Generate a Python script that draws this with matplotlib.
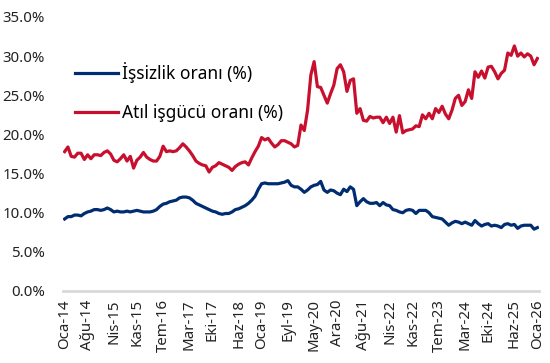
import matplotlib
matplotlib.use('Agg')
import matplotlib.pyplot as plt
from matplotlib.ticker import FuncFormatter

plt.rcParams['font.family'] = ['Noto Sans', 'DejaVu Sans']

# aylar (Ocak 2014 - Ocak 2026)
ay_adlari = ['Oca', 'Şub', 'Mar', 'Nis', 'May', 'Haz', 'Tem', 'Ağu', 'Eyl', 'Eki', 'Kas', 'Ara']
yil_bas, yil_son = 2014, 2026

tick_labels = ['Oca-14', 'Ağu-14', 'Nis-15', 'Kas-15', 'Tem-16', 'Mar-17', 'Eki-17',
               'Haz-18', 'Oca-19', 'Eyl-19', 'May-20', 'Ara-20', 'Ağu-21', 'Nis-22',
               'Kas-22', 'Tem-23', 'Mar-24', 'Eki-24', 'Haz-25', 'Oca-26']

issizlik = [9.2, 9.5, 9.5, 9.7, 9.7, 9.6, 9.9, 10.1, 10.2, 10.4, 10.4, 10.3,
            10.4, 10.6, 10.4, 10.1, 10.2, 10.1, 10.1, 10.2, 10.1, 10.2, 10.3, 10.2,
            10.1, 10.1, 10.1, 10.2, 10.4, 10.8, 11.1, 11.2, 11.4, 11.5, 11.6, 11.9,
            12.0, 12.0, 11.9, 11.6, 11.2, 11.0, 10.8, 10.6, 10.4, 10.2, 10.1, 9.9,
            9.8, 9.9, 9.9, 10.1, 10.4, 10.5, 10.7, 10.9, 11.2, 11.6, 12.1, 13.0,
            13.7, 13.8, 13.7, 13.7, 13.7, 13.7, 13.8, 13.9, 14.1, 13.5, 13.3, 13.3,
            13.0, 12.6, 12.9, 13.3, 13.5, 13.6, 14.0, 12.9, 12.6, 12.9, 12.8, 12.5,
            12.3, 13.0, 12.7, 13.3, 13.0, 10.9, 11.4, 11.8, 11.4, 11.2, 11.2, 11.3,
            10.9, 11.3, 11.0, 10.9, 10.4, 10.3, 10.1, 10.0, 10.3, 10.4, 10.3, 9.9,
            10.3, 10.3, 10.3, 10.0, 9.5, 9.4, 9.3, 9.2, 8.8, 8.4, 8.7, 8.9,
            8.8, 8.6, 8.8, 8.6, 8.4, 9.0, 8.6, 8.3, 8.5, 8.6, 8.3, 8.4,
            8.3, 8.1, 8.5, 8.6, 8.4, 8.5, 8.0, 8.3, 8.4, 8.4, 8.4, 7.9,
            8.1]

atil_isgucu = [17.8, 18.4, 17.2, 17.1, 17.6, 17.6, 16.8, 17.4, 16.9, 17.4, 17.4, 17.3,
               17.7, 17.9, 17.5, 16.7, 16.5, 16.9, 17.4, 16.6, 17.2, 15.7, 16.7, 17.1,
               17.7, 17.1, 16.8, 16.6, 16.6, 17.2, 18.5, 17.8, 17.9, 17.8, 17.9, 18.3,
               18.8, 18.4, 17.9, 17.3, 16.6, 16.3, 16.1, 16.0, 15.2, 15.8, 16.0, 16.4,
               16.2, 16.0, 15.8, 15.4, 15.9, 16.2, 16.4, 16.5, 16.1, 17.0, 17.8, 18.5,
               19.6, 19.3, 19.5, 18.9, 18.4, 18.7, 19.2, 19.2, 19.0, 18.8, 18.4, 18.6,
               21.2, 20.5, 23.1, 27.6, 29.3, 26.1, 26.0, 25.0, 24.0, 25.2, 26.3, 28.4,
               28.9, 28.0, 25.5, 26.9, 27.1, 22.7, 23.3, 21.8, 21.7, 22.3, 22.1, 22.2,
               22.2, 21.5, 22.2, 21.4, 22.2, 20.3, 22.4, 20.2, 20.5, 20.6, 20.7, 21.1,
               21.0, 22.5, 22.0, 22.7, 22.0, 23.3, 22.8, 23.6, 22.6, 22.0, 23.1, 24.6,
               25.0, 23.7, 24.2, 25.7, 24.6, 28.0, 27.3, 28.1, 27.2, 28.6, 28.7, 28.0,
               27.1, 27.8, 28.2, 30.4, 30.1, 31.3, 30.0, 30.4, 29.9, 30.3, 30.0, 28.9,
               29.7]

x = list(range(len(issizlik)))

# etiket -> ay indeksi
def idx(lbl):
    ay, yy = lbl.split('-')
    return (2000 + int(yy) - yil_bas) * 12 + ay_adlari.index(ay)

tick_pos = [idx(t) for t in tick_labels]

fig = plt.figure(figsize=(5.5, 3.63), dpi=100)
ax = fig.add_axes([63/550, 1 - 291/363, 476/550, 274/363])

ax.plot(x, issizlik, color='#002D72', lw=2.3, label='İşsizlik oranı (%)')
ax.plot(x, atil_isgucu, color='#C8102E', lw=2.3, label='Atıl işgücü oranı (%)')

ax.set_ylim(0, 35)
ax.set_yticks([0, 5, 10, 15, 20, 25, 30, 35])
ax.yaxis.set_major_formatter(FuncFormatter(lambda v, p: f'{v:.1f}%'))
ax.set_xlim(-0.5, 144.5)
ax.set_xticks(tick_pos)
ax.set_xticklabels(tick_labels, rotation=90)

for s in ['top', 'right', 'left']:
    ax.spines[s].set_visible(False)
ax.spines['bottom'].set_color('#D9D9D9')
ax.spines['bottom'].set_linewidth(2)
ax.tick_params(length=0, labelsize=10.8, colors='#222222')
ax.tick_params(axis='y', pad=13)
ax.tick_params(axis='x', pad=6)

ax.legend(loc='upper left', bbox_to_anchor=(0.01, 0.86), frameon=False,
          fontsize=12.5, handlelength=2.5, labelspacing=1.2, handletextpad=0.2,
          borderaxespad=0)

fig.savefig('out.png', dpi=100)
